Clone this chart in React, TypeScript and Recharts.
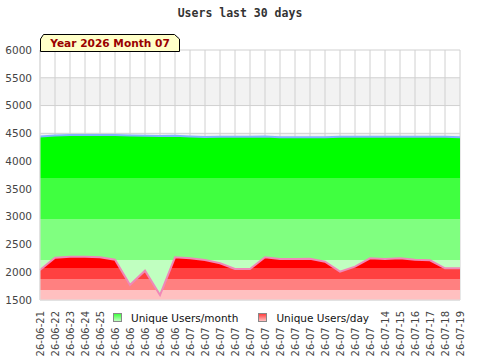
import React from 'react'
import { AreaChart, Area, XAxis, YAxis, CartesianGrid, Legend } from 'recharts'

// daily figures, last 30 days
const days = [
  '2026-06-21', '2026-06-22', '2026-06-23', '2026-06-24', '2026-06-25', '2026-06-26',
  '2026-06-27', '2026-06-28', '2026-06-29', '2026-06-30', '2026-07-01', '2026-07-02',
  '2026-07-03', '2026-07-04', '2026-07-05', '2026-07-06', '2026-07-07', '2026-07-08',
  '2026-07-09', '2026-07-10', '2026-07-11', '2026-07-12', '2026-07-13', '2026-07-14',
  '2026-07-15', '2026-07-16', '2026-07-17', '2026-07-18', '2026-07-19',
]
const usersMonth = [
  4445, 4460, 4470, 4470, 4470, 4470, 4460, 4455, 4450, 4455, 4445, 4435,
  4440, 4440, 4440, 4445, 4430, 4430, 4430, 4430, 4440, 4440, 4440, 4440,
  4440, 4440, 4440, 4440, 4430,
]
const usersDay = [
  2040, 2262, 2280, 2280, 2270, 2226, 1770, 2028, 1590, 2268, 2250, 2220,
  2160, 2058, 2058, 2268, 2238, 2238, 2244, 2190, 2010, 2100, 2250, 2238,
  2250, 2226, 2214, 2070, 2070,
]
const yTicks = [1500, 2000, 2500, 3000, 3500, 4000, 4500, 5000, 5500, 6000]

const data = days.map((d, i) => ({ date: d, month: usersMonth[i], day: usersDay[i] }))

const Y_MIN = 1500
const Y_MAX = 6000
const TOP = 50
const PLOT_H = 250

// fill bands (value thresholds) for the stepped shading
const greenCuts = [3700, 2960, 2220]
const redCuts = [2076, 1878, 1680]
const greens = ['#00ff00', '#40ff40', '#80ff80', '#c0ffc0']
const reds = ['#ff0000', '#ff4040', '#ff8080', '#ffc0c0']

const off = (v: number) => (Y_MAX - v) / (Y_MAX - Y_MIN)

function BandGradient({ id, colors, cuts }: { id: string; colors: string[]; cuts: number[] }) {
  const stops: React.ReactElement[] = []
  let prev = 0
  colors.forEach((c, i) => {
    const end = i < cuts.length ? off(cuts[i]) : 1
    stops.push(<stop key={i + 'a'} offset={prev} stopColor={c} />)
    stops.push(<stop key={i + 'b'} offset={end} stopColor={c} />)
    prev = end
  })
  return (
    <linearGradient id={id} gradientUnits="userSpaceOnUse" x1={0} x2={0} y1={TOP} y2={TOP + PLOT_H}>
      {stops}
    </linearGradient>
  )
}

const XTick = (props: any) => {
  const { x, y, payload } = props
  const ty = y + 3
  return (
    <text x={x} y={ty} transform={`rotate(-90 ${x} ${ty})`} textAnchor="end" dy="0.35em"
      fontSize={10} fill="#444" fontFamily="DejaVu Sans">
      {payload.value.slice(2)}
    </text>
  )
}

const LegendBox = () => {
  const icon = (a: string, b: string) => (
    <span style={{ display: 'inline-block', flex: 'none', width: 7, height: 7, border: '1px solid #888',
      background: `linear-gradient(${a}, ${b})` }} />
  )
  return (
    <div style={{ display: 'flex', alignItems: 'center', height: 21, width: 272, paddingLeft: 8, boxSizing: 'border-box',
      whiteSpace: 'nowrap', fontFamily: 'DejaVu Sans', fontSize: 10.5, color: '#111', background: '#fff' }}>
      {icon('#40ff40', '#c0ffc0')}
      <span style={{ marginLeft: 9 }}>Unique Users/month</span>
      <span style={{ marginLeft: 20, display: 'flex' }}>{icon('#ff4040', '#ffc0c0')}</span>
      <span style={{ marginLeft: 9 }}>Unique Users/day</span>
    </div>
  )
}

export default function App() {
  return (
    <div style={{ position: 'fixed', left: 0, top: 0, width: 480, height: 360, overflow: 'hidden', background: '#fff' }}>
      <AreaChart width={480} height={360} data={data} margin={{ top: TOP, right: 20, left: 0, bottom: 0 }}>
        <defs>
          <BandGradient id="gMonth" colors={greens} cuts={greenCuts} />
          <BandGradient id="gDay" colors={reds} cuts={redCuts} />
        </defs>
        <CartesianGrid stroke="#d0d0d0" horizontalFill={['#ffffff', '#f2f2f2']} />
        <XAxis dataKey="date" interval={0} height={60} tickLine={false} axisLine={{ stroke: '#ddd' }} tick={<XTick />} />
        <YAxis domain={[Y_MIN, Y_MAX]} ticks={yTicks} width={40} tickLine={false}
          axisLine={{ stroke: '#ddd' }} tick={{ fontSize: 10.5, fill: '#444', fontFamily: 'DejaVu Sans' }} />
        <Area type="linear" dataKey="month" stroke="#80b4ff" strokeWidth={2} fill="url(#gMonth)" fillOpacity={1} isAnimationActive={false} />
        <Area type="linear" dataKey="day" stroke="#f088b8" strokeWidth={2} fill="url(#gDay)" fillOpacity={1} isAnimationActive={false} />
        <Legend layout="horizontal" verticalAlign="middle" align="center" content={<LegendBox />}
          wrapperStyle={{ left: 105, top: 307, width: 272, height: 21 }} />
      </AreaChart>
      <svg width={480} height={60} style={{ position: 'absolute', left: 0, top: 0, pointerEvents: 'none' }}>
        <text x={240} y={17} textAnchor="middle" fontFamily="DejaVu Sans Mono" fontWeight="bold" fontSize={11.5} fill="#333">
          Users last 30 days
        </text>
        <polygon points="40.5,39 43.5,34.5 174.5,34.5 179.5,39 179.5,51.5 40.5,51.5" fill="#ffffc8" stroke="#000" />
        <text x={110} y={47} textAnchor="middle" fontFamily="DejaVu Sans" fontWeight="bold" fontSize={10.6} fill="#990000">
          Year 2026 Month 07
        </text>
      </svg>
    </div>
  )
}
